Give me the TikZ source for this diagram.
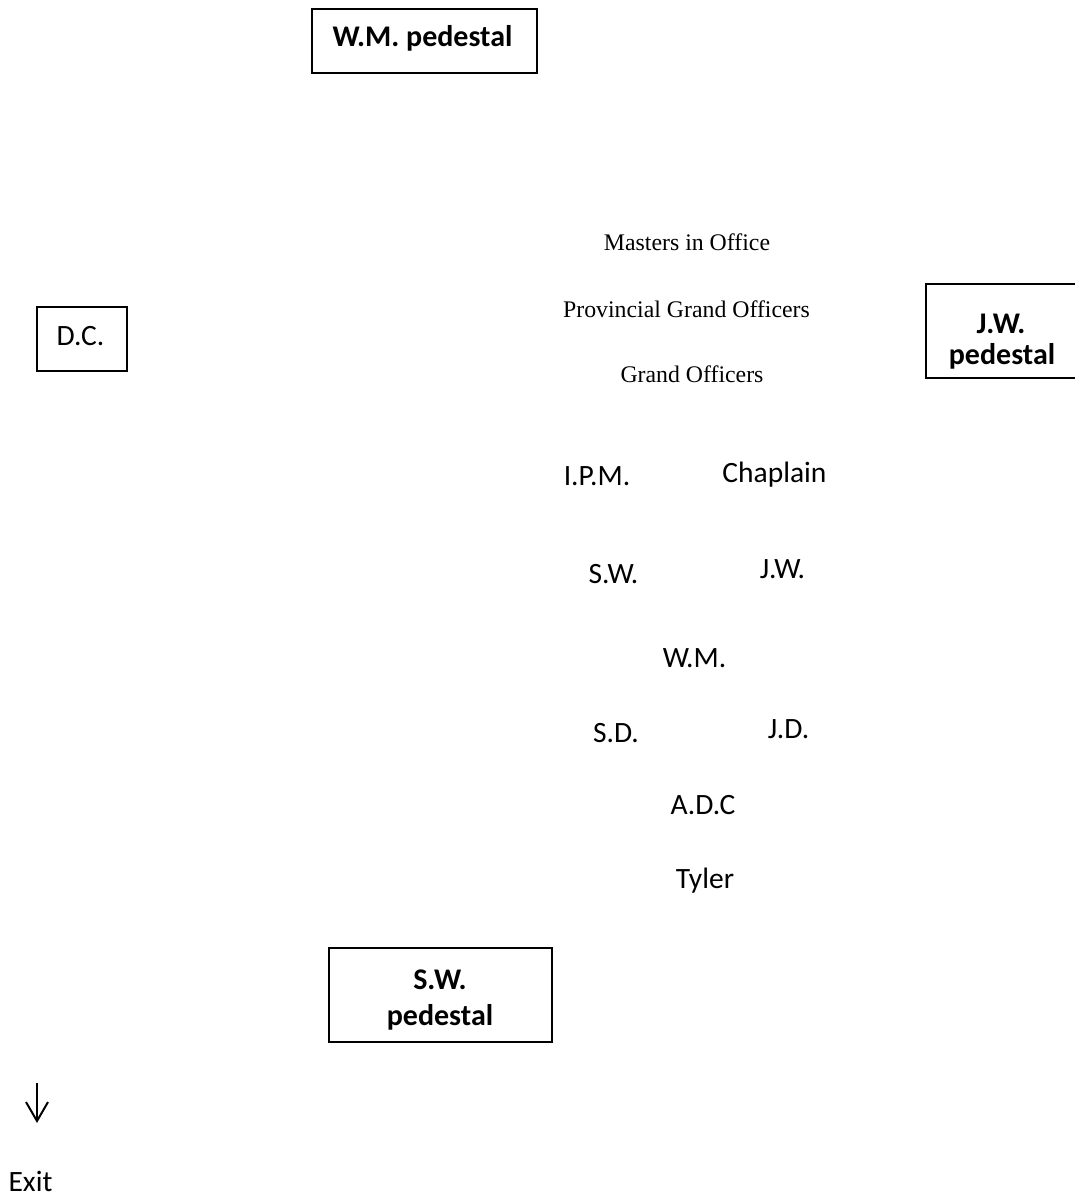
\documentclass[tikz,border=0pt]{standalone}
\usepackage{fontspec}
\setmainfont{Liberation Serif}
\newfontfamily\calfont{Carlito}
\usetikzlibrary{arrows.meta}
\tikzset{
  box/.style={draw, line width=1.4pt, inner sep=0pt},
  seriflab/.style={anchor=base, inner sep=0pt, font=\fontsize{23.8}{26}\selectfont},
  callab/.style={anchor=base, inner sep=0pt, font=\calfont\fontsize{29.5}{32}\selectfont},
  boldlab/.style={anchor=base, inner sep=0pt, font=\calfont\bfseries\fontsize{30}{32}\selectfont},
}
\begin{document}
\begin{tikzpicture}[x=1pt,y=-1pt]
\useasboundingbox (0,0) rectangle (1074,1196);
% pedestal boxes
\node[box, minimum width=225pt, minimum height=64pt] (wmbox) at (424.5,41) {};
\node[boldlab] (wmtext) at (422.5,47) {W.M. pedestal};
\node[box, minimum width=90pt, minimum height=64pt] (dcbox) at (82,339) {};
\node[callab] (dctext) at (80.5,345) {D.C.};
\node[box, minimum width=156pt, minimum height=94pt] (jwbox) at (1004,331) {};
\node[boldlab] (jwtext1) at (1001,333) {J.W.};
\node[boldlab] (jwtext2) at (1002,364) {pedestal};
\node[box, minimum width=223pt, minimum height=94pt] (swbox) at (440.5,995) {};
\node[boldlab] (swtext1) at (440,989) {S.W.};
\node[boldlab] (swtext2) at (440,1025) {pedestal};
% serif labels
\node[seriflab] (mio) at (687,250) {Masters in Office};
\node[seriflab] (pgo) at (686.5,317) {Provincial Grand Officers};
\node[seriflab] (go) at (692,382) {Grand Officers};
% officers
\node[callab] (ipm) at (597,485) {I.P.M.};
\node[callab] (chap) at (774.5,482) {Chaplain};
\node[callab] (sw) at (613.5,583) {S.W.};
\node[callab] (jw) at (782.5,578) {J.W.};
\node[callab] (wm) at (694.5,667) {W.M.};
\node[callab] (sd) at (616,742) {S.D.};
\node[callab] (jd) at (788.5,738) {J.D.};
\node[callab] (adc) at (703,814) {A.D.C};
\node[callab] (tyler) at (705,888) {Tyler};
% exit
\coordinate (arrtop) at (37,1083);
\coordinate (arrtip) at (37,1123);
\draw[line width=2pt, -{Straight Barb[length=19pt,width=22pt,line width=2pt]}] (arrtop) -- (arrtip);
\node[callab] (exit) at (30.5,1191) {Exit};
\end{tikzpicture}
\end{document}
